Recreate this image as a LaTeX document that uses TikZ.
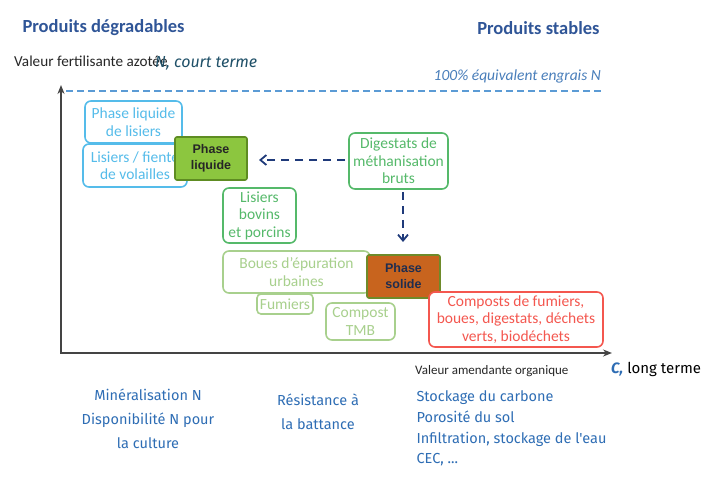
\documentclass[tikz,border=0pt]{standalone}
\usepackage{fontspec}
\setmainfont{Carlito}
\newfontfamily\fira{Fira Sans}
\newfontfamily\arialf{Liberation Sans}
\usetikzlibrary{arrows.meta}
\definecolor{titleblue}{HTML}{2F5597}
\definecolor{lblue}{HTML}{55BCEA}
\definecolor{gr}{HTML}{55B96A}
\definecolor{lgr}{HTML}{A8D08D}
\definecolor{plfill}{HTML}{8CC63F}
\definecolor{plborder}{HTML}{5E8C22}
\definecolor{psfill}{HTML}{C8641E}
\definecolor{psborder}{HTML}{6E8B2A}
\definecolor{pstext}{HTML}{1F2D4F}
\definecolor{redb}{HTML}{F4574F}
\definecolor{navy}{HTML}{1F3A7A}
\definecolor{dashblue}{HTML}{5B9BD5}
\definecolor{botblue}{HTML}{2E6DB4}
\definecolor{teal}{HTML}{1F5068}
\definecolor{axisc}{HTML}{444444}
\tikzset{
  catbox/.style={draw=#1, text=#1, fill=white, rounded corners=6pt, line width=1.6pt, align=center, inner sep=1pt, font=\fontsize{15.5}{17.5}\selectfont},
  phasebox/.style={draw, rounded corners=2pt, line width=1.6pt, align=center, inner sep=1pt, font=\arialf\bfseries\fontsize{12.5}{16}\selectfont},
  dasharrow/.style={navy, line width=1.8pt, dash pattern=on 8pt off 6pt, -{Straight Barb[length=6pt,width=10pt]}},
  axisarrow/.style={axisc, line width=1.6pt, -{Stealth[length=9pt,width=7pt]}},
  bottxt/.style={botblue, font=\fira\fontsize{14.5}{24}\selectfont}
}
\begin{document}
\begin{tikzpicture}[x=1pt,y=-1pt]
\useasboundingbox (0,0) rectangle (711,478);
% titles
\node[titleblue, font=\bfseries\fontsize{18.5}{20}\selectfont, anchor=west] (t1) at (19,28) {Produits dégradables};
\node[titleblue, font=\bfseries\fontsize{18.5}{20}\selectfont, anchor=east] (t2) at (603,28) {Produits stables};
% axis labels
\node[black!85, font=\fontsize{15.2}{15}\selectfont, anchor=west, inner sep=0] (ylab) at (14,61) {Valeur fertilisante azotée};
\node[teal, font=\fira\itshape\fontsize{16}{16}\selectfont, anchor=west, inner sep=0] (nct) at (155,63) {N, court terme};
\node[dashblue!70!navy, font=\itshape\fontsize{15.5}{15}\selectfont, anchor=east, inner sep=0] (eqn) at (601,76) {100\% équivalent engrais N};
% axes
\coordinate (o) at (61,353);
\coordinate (ytop) at (61,85);
\coordinate (xend) at (612,353);
\draw[axisarrow] (o) -- (ytop);
\draw[axisarrow] ([xshift=-0.8pt]o) -- (xend);
\coordinate (d1) at (66,91);
\coordinate (d2) at (603,91);
\draw[dashblue, line width=1.6pt, dash pattern=on 7pt off 4pt] (d1) -- (d2);
\node[black!85, font=\fontsize{13}{15}\selectfont, anchor=west, inner sep=0] (xlab) at (415,371) {Valeur amendante organique};
\node[anchor=west, inner sep=0, font=\fira\fontsize{15}{16}\selectfont] (lt) at (611,369) {\textcolor{botblue}{\bfseries\itshape C,} long terme};
% boxes
\node[catbox=lblue, minimum width=97pt, minimum height=42pt] (pll) at (133.5,122) {Phase liquide\\de lisiers};
\node[catbox=lblue, minimum width=104pt, minimum height=43pt] (lfv) at (135,165.5) {Lisiers / fiente\\de volailles};
\node[phasebox, draw=plborder, fill=plfill, text=black!85, minimum width=72pt, minimum height=43pt] (pl) at (211,158.5) {Phase\\liquide};
\node[catbox=gr, minimum width=99pt, minimum height=56pt] (dig) at (398.5,161) {Digestats de\\méthanisation\\bruts};
\node[catbox=gr, minimum width=73pt, minimum height=55pt] (lbp) at (259.5,215.5) {Lisiers\\bovins\\et porcins};
\node[catbox=lgr, minimum width=147pt, minimum height=42pt] (boues) at (296.5,272) {Boues d'épuration\\urbaines};
\node[catbox=lgr, minimum width=56pt, minimum height=20pt, rounded corners=4pt] (fum) at (285,304) {Fumiers};
\node[catbox=lgr, minimum width=69pt, minimum height=37pt] (tmb) at (360.5,321.5) {Compost\\TMB};
\node[phasebox, draw=psborder, fill=psfill, text=pstext, minimum width=73pt, minimum height=43pt] (ps) at (403.5,276.5) {Phase\\solide};
\node[catbox=redb, minimum width=174pt, minimum height=55pt] (comp) at (516,319.5) {Composts de fumiers,\\boues, digestats, déchets\\verts, biodéchets};
% arrows
\coordinate (a1s) at (345,160);
\coordinate (a1e) at (259,160);
\draw[dasharrow] (a1s) -- (a1e);
\coordinate (a2s) at (403,192);
\coordinate (a2e) at (403,242);
\draw[dasharrow] (a2s) -- (a2e);
% bottom texts
\node[bottxt, align=center] (b1) at (148,419) {Minéralisation N\\Disponibilité N pour\\la culture};
\node[bottxt, align=center] (b2) at (318,411.5) {Résistance à\\la battance};
\node[bottxt, align=left, anchor=north west, font=\fira\fontsize{14.5}{20.8}\selectfont] (b3) at (413,387) {Stockage du carbone\\Porosité du sol\\Infiltration, stockage de l'eau\\CEC, ...};
\end{tikzpicture}
\end{document}
